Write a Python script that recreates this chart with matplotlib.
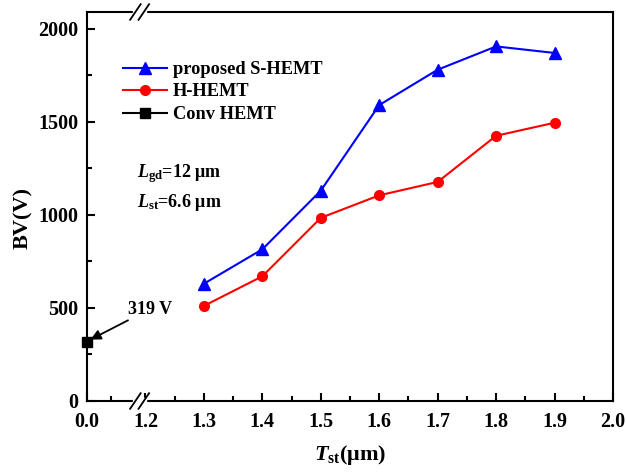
import numpy as np
import matplotlib
matplotlib.use("Agg")
import matplotlib.pyplot as plt

plt.rcParams['font.family'] = 'Liberation Serif'
plt.rcParams['font.weight'] = 'bold'
plt.rcParams['mathtext.fontset'] = 'custom'
plt.rcParams['mathtext.rm'] = 'Liberation Serif:bold'
plt.rcParams['mathtext.it'] = 'Liberation Serif:italic:bold'
plt.rcParams['mathtext.bf'] = 'Liberation Serif:bold'

# data
tst = [1.3, 1.4, 1.5, 1.6, 1.7, 1.8, 1.9]
bv_s_hemt = [630, 815, 1130, 1590, 1780, 1905, 1870]
bv_h_hemt = [511, 670, 984, 1105, 1177, 1425, 1495]
conv_x = [0.0]
bv_conv = [319]

xtick_vals = [0.0, 1.2, 1.3, 1.4, 1.5, 1.6, 1.7, 1.8, 1.9, 2.0]
ytick_vals = [0, 500, 1000, 1500, 2000]

# broken x axis: 0.0 segment sits just left of 1.2
def xmap(x):
    x = np.asarray(x, dtype=float)
    return np.where(x < 1.0, x + 1.1, x)

fig = plt.figure(figsize=(6.26, 4.74), dpi=100)
ax = fig.add_axes([87/626, 1 - 401/474, (613-87)/626, (401-12)/474])

ax.plot(xmap(tst), bv_s_hemt, color='blue', marker='^', ms=8, lw=1.5,
        label='proposed S-HEMT')
ax.plot(xmap(tst), bv_h_hemt, color='red', marker='o', ms=7, lw=1.5,
        label='H-HEMT')
ax.plot(xmap(conv_x), bv_conv, color='black', marker='s', ms=7, lw=1.5,
        label='Conv HEMT', clip_on=False, zorder=5)

ax.set_xlim(1.1, 2.0)
ax.set_ylim(0, 2090)

ax.set_xticks(xmap(xtick_vals))
ax.set_xticklabels(['%.1f' % v for v in xtick_vals])
ax.set_xticks([1.141, 1.25, 1.35, 1.45, 1.55, 1.65, 1.75, 1.85, 1.95], minor=True)
ax.set_yticks(ytick_vals)
ax.set_yticks([250, 750, 1250, 1750], minor=True)
ax.tick_params(which='both', direction='in', top=False, right=False,
               labelsize=14.5, width=1.5)
ax.tick_params(axis='x', pad=8)
ax.tick_params(axis='y', pad=6)
ax.tick_params(which='major', length=6)
ax.tick_params(which='minor', length=3.5)
for lab in ax.get_xticklabels() + ax.get_yticklabels():
    lab.set_fontweight('bold')
for s in ax.spines.values():
    s.set_linewidth(1.5)

ax.set_ylabel('BV(V)', fontsize=16, fontweight='bold')
ax.yaxis.set_label_coords(-0.103, 0.47)
ax.set_xlabel(r'$T_{\mathrm{st}}$(μm)', fontsize=16, fontweight='bold', labelpad=8)

# axis break marks
bx = 0.1
for yb in (0.0, 1.0):
    ax.add_patch(plt.Rectangle((bx - 0.012, yb - 0.008), 0.024, 0.016,
                               transform=ax.transAxes, color='white',
                               clip_on=False, zorder=6))
    for dx in (-0.008, 0.008):
        ax.plot([bx + dx - 0.01, bx + dx + 0.01], [yb - 0.02, yb + 0.02],
                transform=ax.transAxes, color='black', lw=1.3,
                clip_on=False, zorder=7)

leg = ax.legend(loc='upper left', bbox_to_anchor=(0.055, 0.893), frameon=False,
                prop={'size': 13.2, 'weight': 'bold'}, handlelength=2.4,
                handletextpad=0.3, labelspacing=0.3, borderaxespad=0)

ax.text(0.095, 0.585, r'$L_{\mathrm{gd}}$=12 μm', transform=ax.transAxes,
        fontsize=13, fontweight='bold', va='center')
ax.text(0.095, 0.51, r'$L_{\mathrm{st}}$=6.6 μm', transform=ax.transAxes,
        fontsize=13, fontweight='bold', va='center')

ax.annotate('319 V', xy=(xmap(0.0) + 0.006, 330), xytext=(1.17, 470),
            fontsize=13, fontweight='bold',
            arrowprops=dict(arrowstyle='-|>', color='black', lw=1.3,
                            mutation_scale=15, shrinkA=0, shrinkB=0))

fig.savefig('out.png', dpi=100)
